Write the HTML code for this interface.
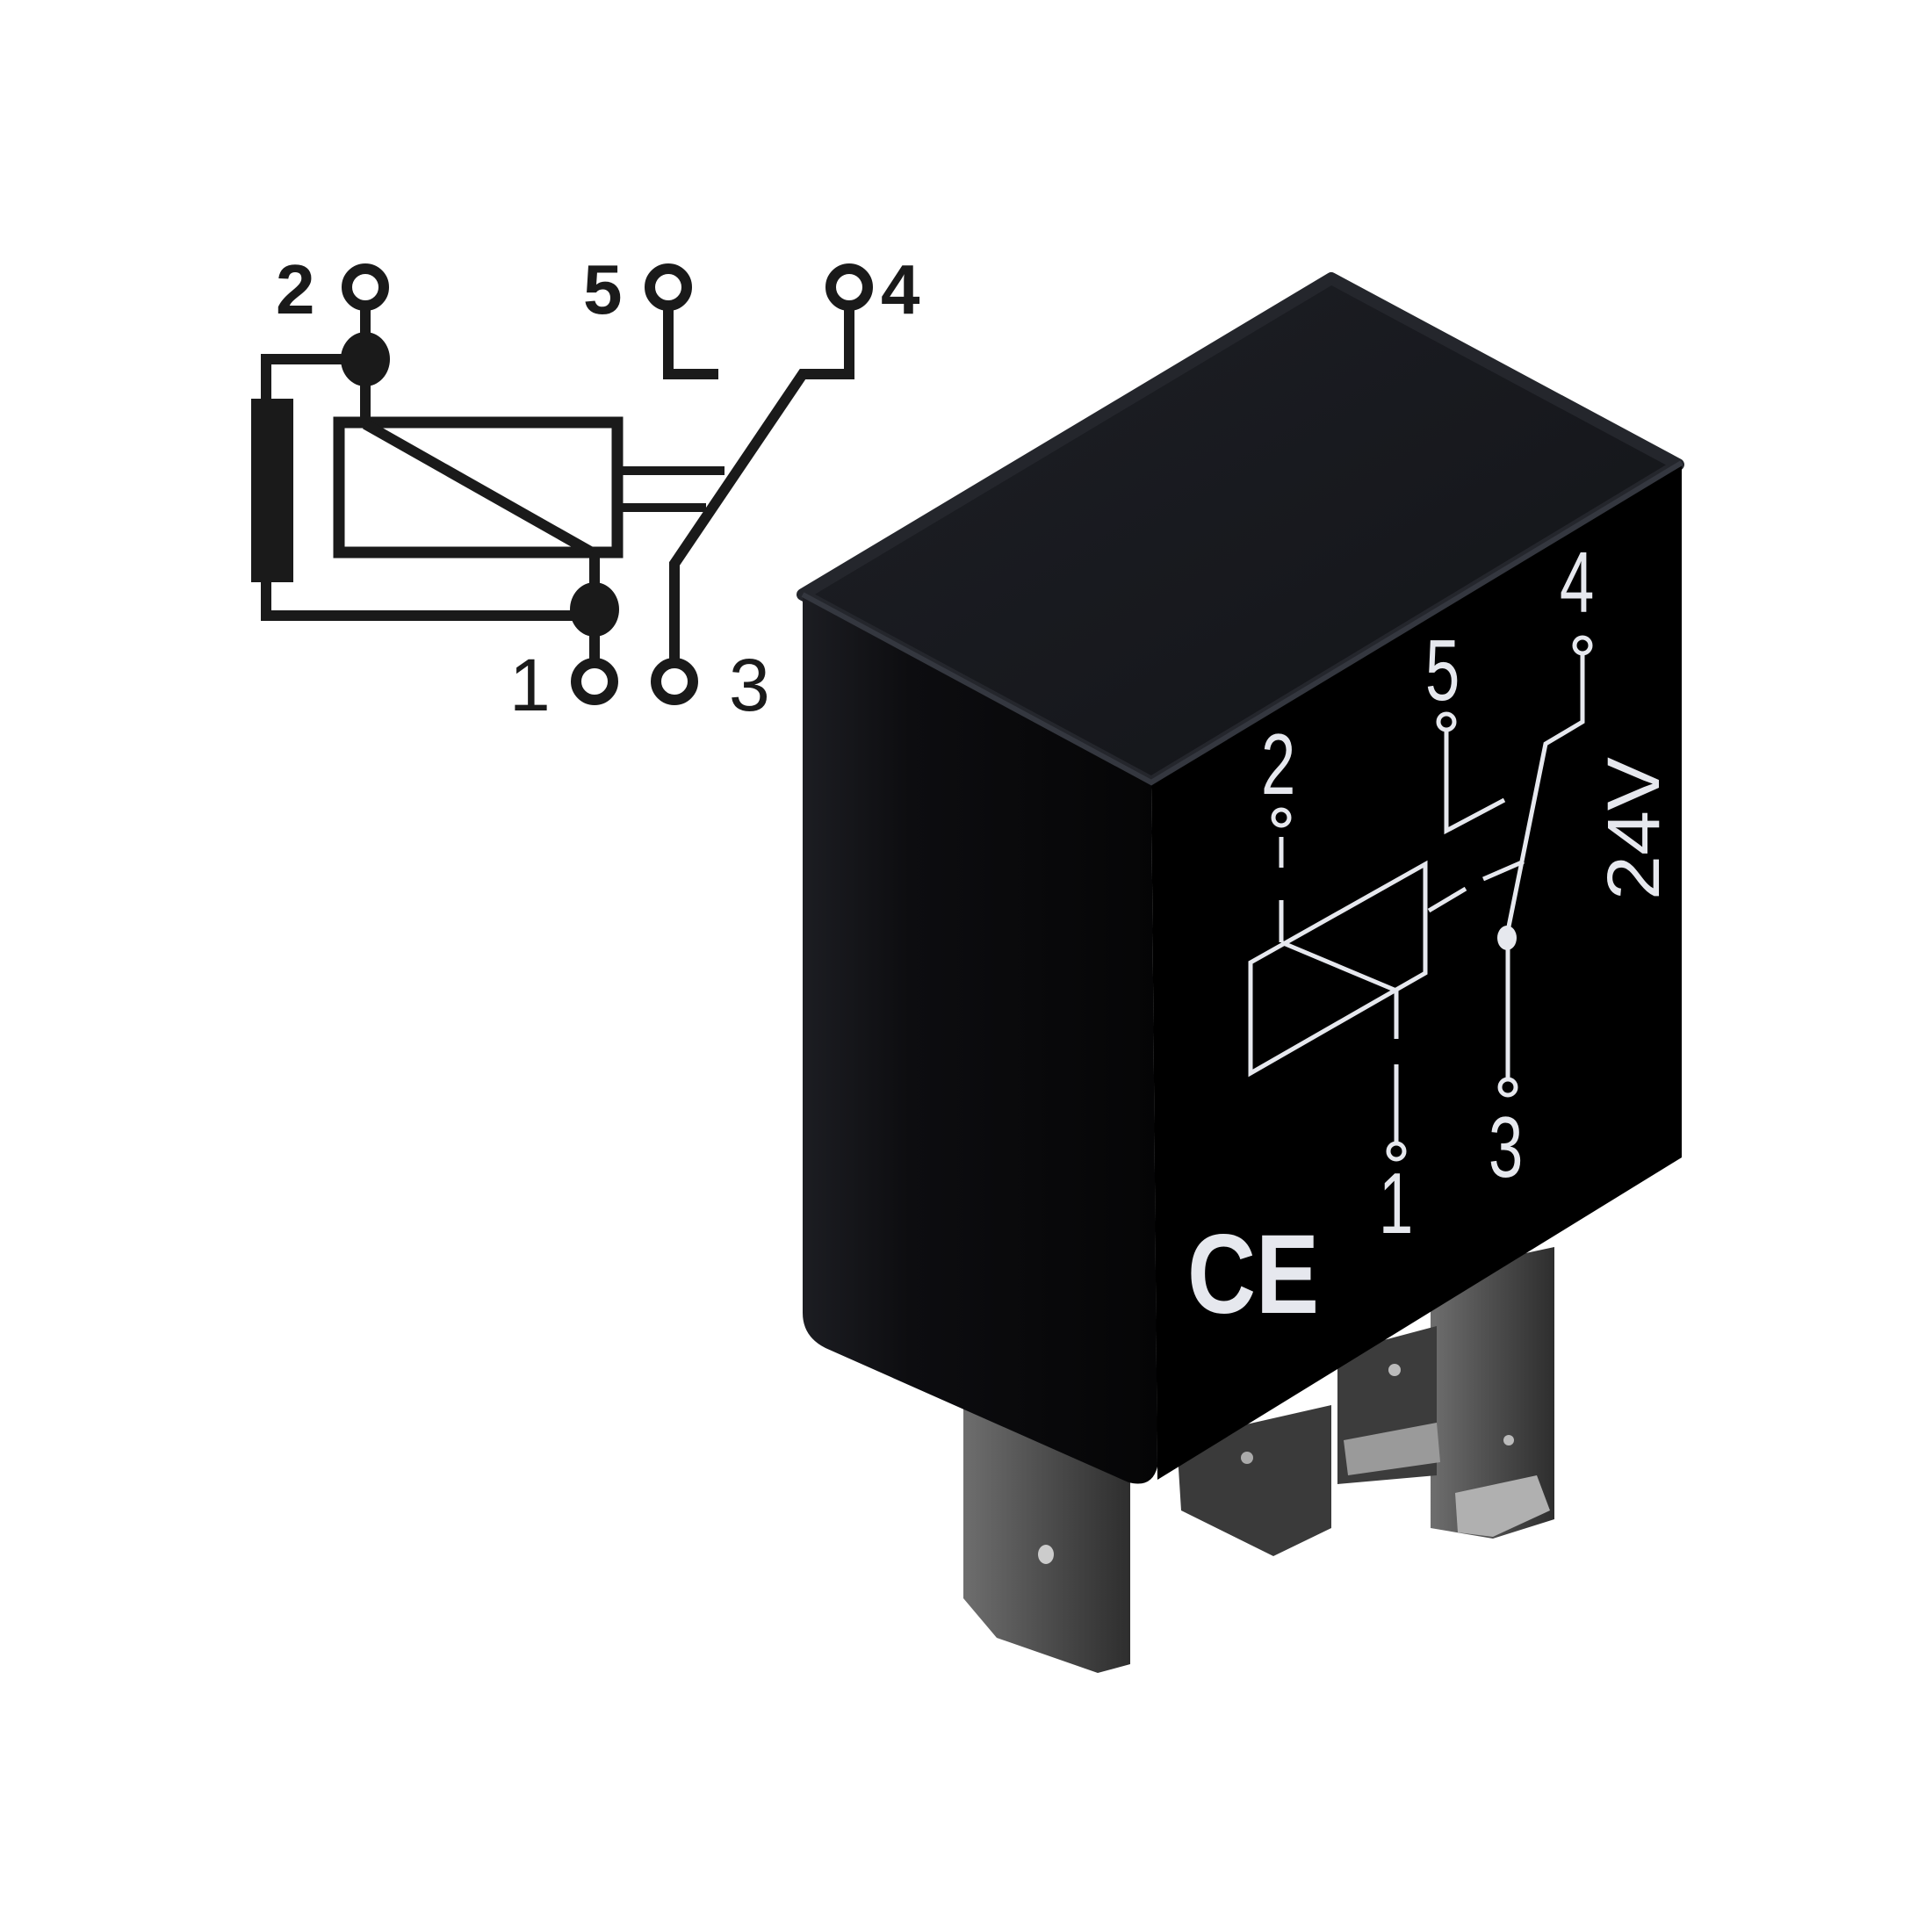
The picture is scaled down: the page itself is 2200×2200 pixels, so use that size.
<!DOCTYPE html>
<html><head><meta charset="utf-8"><style>html,body{margin:0;padding:0;background:#fff}svg{display:block}</style></head>
<body>
<svg width="2200" height="2200" viewBox="0 0 2200 2200" xmlns="http://www.w3.org/2000/svg">
<defs>
<linearGradient id="lf" x1="0" y1="0" x2="1" y2="0"><stop offset="0" stop-color="#1c1d22"/><stop offset="0.3" stop-color="#0d0d10"/><stop offset="1" stop-color="#050506"/></linearGradient>
<linearGradient id="tf" x1="0" y1="0" x2="1" y2="1"><stop offset="0" stop-color="#1d1f25"/><stop offset="1" stop-color="#131418"/></linearGradient>
<linearGradient id="pin" x1="0" y1="0" x2="1" y2="0"><stop offset="0" stop-color="#6e6e6e"/><stop offset="0.5" stop-color="#4d4d4d"/><stop offset="1" stop-color="#2e2e2e"/></linearGradient>
</defs>
<!-- schematic -->
<g stroke="#1a1a1a" stroke-width="12" fill="none" stroke-linejoin="miter">
<circle cx="416" cy="327" r="21"/>
<circle cx="761" cy="327" r="21"/>
<circle cx="967" cy="327" r="21"/>
<circle cx="677" cy="776" r="21"/>
<circle cx="768" cy="776" r="21"/>
<line x1="416" y1="348" x2="416" y2="480"/>
<polyline points="416,409 303,409 303,454"/>
<polyline points="303,663 303,701 677,701"/>
<rect x="386" y="481" width="317" height="148" stroke-width="13"/>
<line x1="416" y1="483" x2="674" y2="629"/>
<line x1="677" y1="629" x2="677" y2="755"/>
<polyline points="761,348 761,426 818,426"/>
<polyline points="768,755 768,642 914,426 967,426 967,348"/>
<line x1="709" y1="536" x2="825" y2="536" stroke-width="10"/>
<line x1="709" y1="578" x2="804" y2="578" stroke-width="10"/>
</g>
<rect x="286" y="454" width="48" height="209" fill="#1a1a1a"/>
<ellipse cx="416" cy="409" rx="28" ry="31" fill="#1a1a1a"/>
<ellipse cx="677" cy="694" rx="28" ry="31" fill="#1a1a1a"/>
<g font-family="Liberation Sans, sans-serif" fill="#1a1a1a">
<text x="314" y="357" font-size="80" font-weight="bold">2</text>
<text x="664" y="357" font-size="80" font-weight="bold">5</text>
<text x="1003" y="357" font-size="80" font-weight="bold">4</text>
<text x="580" y="809" font-size="84">1</text>
<text x="830" y="809" font-size="84">3</text>
</g>
<!-- relay pins (behind) -->
<polygon points="1629,1450 1770,1420 1770,1730 1700,1752 1629,1740" fill="url(#pin)"/>
<polygon points="1657,1700 1750,1680 1765,1720 1700,1750 1660,1745" fill="#b0b0b0"/>
<polygon points="1523,1540 1636,1510 1636,1680 1523,1690" fill="#3c3c3c"/>
<polygon points="1530,1640 1636,1620 1640,1665 1535,1680" fill="#9a9a9a"/>
<polygon points="1340,1640 1516,1600 1516,1740 1450,1772 1345,1720" fill="#3a3a3a"/>
<polygon points="1097,1560 1287,1560 1287,1895 1250,1905 1135,1865 1097,1820" fill="url(#pin)"/>
<ellipse cx="1191" cy="1770" rx="9" ry="11" fill="#ccc"/>
<ellipse cx="1588" cy="1560" rx="7" ry="7" fill="#bbb"/>
<ellipse cx="1718" cy="1640" rx="6" ry="6" fill="#bbb"/>
<ellipse cx="1420" cy="1660" rx="7" ry="7" fill="#aaa"/>
<!-- relay body -->
<polygon points="914,677 1516,317 1911,529 1311,891" fill="url(#tf)" stroke="#24262c" stroke-width="14" stroke-linejoin="round"/>
<path d="M914,677 L1311,891 L1318,1670 Q1312,1695 1285,1688 L940,1535 Q914,1522 914,1495 Z" fill="url(#lf)"/>
<path d="M1311,891 L1915,529 L1915,1318 L1318,1685 Z" fill="#000"/>
<path d="M914,677 L1311,891 L1915,527" fill="none" stroke="#34373f" stroke-width="6"/>
<!-- face drawing -->
<g stroke="#e6e8ee" stroke-width="5" fill="none">
<circle cx="1459" cy="931" r="9"/>
<line x1="1459" y1="953" x2="1459" y2="988"/>
<line x1="1459" y1="1025" x2="1459" y2="1073"/>
<polygon points="1424,1096 1623,984 1623,1108 1424,1222"/>
<line x1="1459" y1="1073" x2="1590" y2="1128"/>
<line x1="1590" y1="1128" x2="1590" y2="1183"/>
<line x1="1590" y1="1212" x2="1590" y2="1300"/>
<circle cx="1590" cy="1311" r="9"/>
<line x1="1627" y1="1037" x2="1669" y2="1012"/>
<line x1="1689" y1="1001" x2="1735" y2="981"/>
<polyline points="1715,1070 1760,847 1802,822 1802,746"/>
<circle cx="1802" cy="735" r="9"/>
<line x1="1717" y1="1070" x2="1717" y2="1228"/>
<circle cx="1717" cy="1238" r="9"/>
<circle cx="1647" cy="822" r="9"/>
<polyline points="1647,832 1647,946 1713,911"/>
</g>
<ellipse cx="1716" cy="1068" rx="11" ry="14" fill="#e6e8ee"/>
<g font-family="Liberation Sans, sans-serif" fill="#e6e8ee" font-size="98">
<text transform="translate(1436,904) scale(0.72,1)">2</text>
<text transform="translate(1623,797) scale(0.72,1)">5</text>
<text transform="translate(1776,697) scale(0.72,1)">4</text>
<text transform="translate(1695,1340) scale(0.72,1)">3</text>
<text transform="translate(1570,1404) scale(0.72,1)">1</text>
<text transform="translate(1889,1025) rotate(-90)" font-size="84" textLength="163" lengthAdjust="spacingAndGlyphs">24V</text>
<text x="1352" y="1495" font-size="128" font-weight="bold" textLength="150" lengthAdjust="spacingAndGlyphs">CE</text>
</g>
</svg>
</body></html>
